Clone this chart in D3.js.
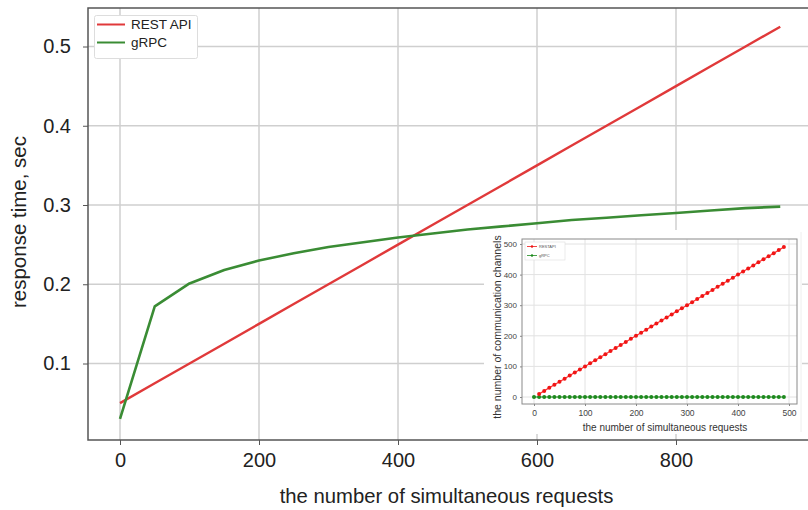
<!DOCTYPE html>
<html><head><meta charset="utf-8">
<script src="https://cdn.jsdelivr.net/npm/d3@7"></script>
<style>body{margin:0;background:#fff}svg{display:block;font-family:"Liberation Sans",Arial,sans-serif}</style>
</head><body><svg id="c" width="808" height="510"></svg>
<script>
// Main chart data
const requests = [0,50,100,150,200,250,300,350,400,450,500,550,600,650,700,750,800,850,900,950];
const restTime = [0.050,0.075,0.100,0.125,0.150,0.175,0.200,0.225,0.250,0.275,0.300,0.325,0.350,0.375,0.400,0.425,0.450,0.475,0.500,0.525];
const grpcTime = [0.030,0.172,0.201,0.218,0.230,0.239,0.247,0.253,0.259,0.264,0.269,0.273,0.277,0.281,0.284,0.287,0.290,0.293,0.296,0.298];
const xTicks = [0,200,400,600,800];
const yTicks = [0.1,0.2,0.3,0.4,0.5];
const seriesNames = ["REST API","gRPC"];

// Inset data
const insetRestX = [10,20,30,40,50,60,70,80,90,100,110,120,130,140,150,160,170,180,190,200,210,220,230,240,250,260,270,280,290,300,310,320,330,340,350,360,370,380,390,400,410,420,430,440,450,460,470,480,490];
const insetRestY = [10,20,30,40,50,60,70,80,90,100,110,120,130,140,150,160,170,180,190,200,210,220,230,240,250,260,270,280,290,300,310,320,330,340,350,360,370,380,390,400,410,420,430,440,450,460,470,480,490];
const insetGrpcX = [0,10,20,30,40,50,60,70,80,90,100,110,120,130,140,150,160,170,180,190,200,210,220,230,240,250,260,270,280,290,300,310,320,330,340,350,360,370,380,390,400,410,420,430,440,450,460,470,480,490];
const insetGrpcY = [0,0,0,0,0,0,0,0,0,0,0,0,0,0,0,0,0,0,0,0,0,0,0,0,0,0,0,0,0,0,0,0,0,0,0,0,0,0,0,0,0,0,0,0,0,0,0,0,0,0];
const insetTicks = [0,100,200,300,400,500];
const insetSeriesNames = ["RESTAPI","gRPC"];

const RED = "#e0393a", GREEN = "#3a8c34";
const svg = d3.select("#c");

// ---------- Main chart ----------
const L = 88, T = 8, R = 814, B = 440;
const x = d3.scaleLinear().domain([0, 800]).range([120, 676]);
const y = d3.scaleLinear().domain([0.1, 0.5]).range([363.5, 46.5]);

const g = svg.append("g");
g.selectAll(".vg").data(xTicks).enter().append("line")
  .attr("x1", d => x(d)).attr("x2", d => x(d)).attr("y1", T).attr("y2", B)
  .attr("stroke", "#cfcfcf").attr("stroke-width", 1.5);
g.selectAll(".hg").data(yTicks).enter().append("line")
  .attr("x1", L).attr("x2", R).attr("y1", d => y(d)).attr("y2", d => y(d))
  .attr("stroke", "#cfcfcf").attr("stroke-width", 1.5);

const line = d3.line().x(d => x(d[0])).y(d => y(d[1]));
g.append("path").datum(requests.map((r, i) => [r, restTime[i]]))
  .attr("d", line).attr("fill", "none").attr("stroke", RED).attr("stroke-width", 2.4);
g.append("path").datum(requests.map((r, i) => [r, grpcTime[i]]))
  .attr("d", line).attr("fill", "none").attr("stroke", GREEN).attr("stroke-width", 2.6)
  .attr("stroke-linejoin", "round");

g.append("rect").attr("x", L).attr("y", T).attr("width", R - L).attr("height", B - T)
  .attr("fill", "none").attr("stroke", "#555").attr("stroke-width", 1.5);

const xAxis = svg.append("g").attr("transform", `translate(0,${B})`)
  .call(d3.axisBottom(x).tickValues(xTicks).tickSize(5).tickPadding(8).tickFormat(d3.format("d")));
xAxis.select(".domain").remove();
xAxis.selectAll("line").attr("stroke", "#555");
xAxis.selectAll("text").attr("font-size", 20).attr("fill", "#222")
  .attr("font-family", "Liberation Sans, Arial, sans-serif");

const yAxis = svg.append("g").attr("transform", `translate(${L},0)`)
  .call(d3.axisLeft(y).tickValues(yTicks).tickSize(5).tickPadding(12).tickFormat(d3.format(".1f")));
yAxis.select(".domain").remove();
yAxis.selectAll("line").attr("stroke", "#555");
yAxis.selectAll("text").attr("font-size", 20).attr("fill", "#222")
  .attr("font-family", "Liberation Sans, Arial, sans-serif");

svg.append("text").attr("x", 446.5).attr("y", 503).attr("text-anchor", "middle")
  .attr("font-size", 20.3).attr("fill", "#222").text("the number of simultaneous requests");
svg.append("text").attr("transform", "translate(26,222) rotate(-90)").attr("text-anchor", "middle")
  .attr("font-size", 20.5).attr("fill", "#222").text("response time, sec");

// legend
const lg = svg.append("g");
lg.append("rect").attr("x", 94.5).attr("y", 15.5).attr("width", 103).attr("height", 43).attr("rx", 2)
  .attr("fill", "#fff").attr("stroke", "#ddd").attr("stroke-width", 1);
[RED, GREEN].forEach((c, i) => {
  const yy = 24.5 + i * 18;
  lg.append("line").attr("x1", 97).attr("x2", 125).attr("y1", yy).attr("y2", yy)
    .attr("stroke", c).attr("stroke-width", 2);
  lg.append("text").attr("x", 131).attr("y", yy + 4.5).attr("font-size", 13.5).attr("fill", "#222")
    .text(seriesNames[i]);
});

// ---------- Inset ----------
const ins = svg.append("g");
ins.append("rect").attr("x", 484).attr("y", 230).attr("width", 318).attr("height", 204).attr("fill", "#fff");
ins.append("line").attr("x1", 801).attr("x2", 801).attr("y1", 232).attr("y2", 432).attr("stroke", "#eee");
const IL = 522, IT = 239, IR = 797, IB = 404;
const ix = d3.scaleLinear().domain([0, 500]).range([534, 789]);
const iy = d3.scaleLinear().domain([0, 500]).range([397, 244]);
ins.selectAll(".ivg").data(insetTicks).enter().append("line")
  .attr("x1", d => ix(d)).attr("x2", d => ix(d)).attr("y1", IT).attr("y2", IB)
  .attr("stroke", "#e2e2e2").attr("stroke-width", 1);
ins.selectAll(".ihg").data(insetTicks).enter().append("line")
  .attr("x1", IL).attr("x2", IR).attr("y1", d => iy(d)).attr("y2", d => iy(d))
  .attr("stroke", "#e2e2e2").attr("stroke-width", 1);

const iline = d3.line().x(d => ix(d[0])).y(d => iy(d[1]));
const restPts = insetRestX.map((v, i) => [v, insetRestY[i]]);
const grpcPts = insetGrpcX.map((v, i) => [v, insetGrpcY[i]]);
ins.append("path").datum(grpcPts).attr("d", iline).attr("fill", "none").attr("stroke", "#2a8a2a").attr("stroke-width", 1.2);
ins.selectAll(".gp").data(grpcPts).enter().append("circle")
  .attr("cx", d => ix(d[0])).attr("cy", d => iy(d[1])).attr("r", 2).attr("fill", "#1d8a1d");
ins.append("path").datum(restPts).attr("d", iline).attr("fill", "none").attr("stroke", "#ff3030").attr("stroke-width", 1.2);
ins.selectAll(".rp").data(restPts).enter().append("circle")
  .attr("cx", d => ix(d[0])).attr("cy", d => iy(d[1])).attr("r", 2).attr("fill", "#f01515");

ins.append("rect").attr("x", IL).attr("y", IT).attr("width", IR - IL).attr("height", IB - IT)
  .attr("fill", "none").attr("stroke", "#8a8a8a").attr("stroke-width", 1);

const ixA = ins.append("g").attr("transform", `translate(0,${IB})`)
  .call(d3.axisBottom(ix).tickValues(insetTicks).tickSize(2).tickPadding(4));
ixA.select(".domain").remove();
ixA.selectAll("line").attr("stroke", "#888");
ixA.selectAll("text").attr("font-size", 8.5).attr("fill", "#444");
const iyA = ins.append("g").attr("transform", `translate(${IL},0)`)
  .call(d3.axisLeft(iy).tickValues(insetTicks).tickSize(2).tickPadding(3));
iyA.select(".domain").remove();
iyA.selectAll("line").attr("stroke", "#888");
iyA.selectAll("text").attr("font-size", 8).attr("fill", "#444");

ins.append("text").attr("x", 665).attr("y", 431).attr("text-anchor", "middle")
  .attr("font-size", 10).attr("fill", "#333").text("the number of simultaneous requests");
ins.append("text").attr("transform", "translate(501,327) rotate(-90)").attr("text-anchor", "middle")
  .attr("font-size", 10.5).attr("fill", "#333").text("the number of communication channels");

// inset legend
ins.append("rect").attr("x", 525).attr("y", 242).attr("width", 40).attr("height", 18)
  .attr("fill", "#fff").attr("stroke", "#ddd").attr("stroke-width", 0.6);
[["#f01515", 0], ["#1d8a1d", 1]].forEach(([c, i]) => {
  const yy = 246.5 + i * 9;
  ins.append("line").attr("x1", 527).attr("x2", 537).attr("y1", yy).attr("y2", yy).attr("stroke", c).attr("stroke-width", 0.8);
  ins.append("circle").attr("cx", 532).attr("cy", yy).attr("r", 1.2).attr("fill", c);
  ins.append("text").attr("x", 539).attr("y", yy + 1.5).attr("font-size", 4).attr("fill", "#555").text(insetSeriesNames[i]);
});
</script></body></html>
